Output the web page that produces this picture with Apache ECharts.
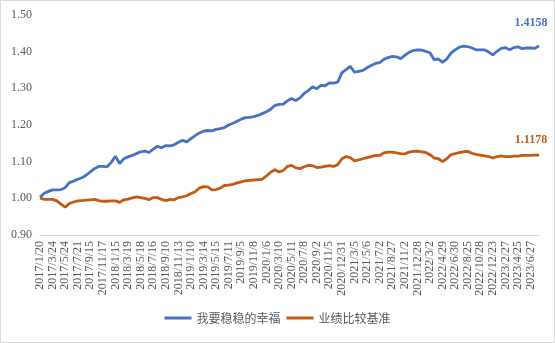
<!DOCTYPE html>
<html>
<head>
<meta charset="utf-8">
<script src="https://cdn.jsdelivr.net/npm/echarts@6/dist/echarts.min.js"></script>
<style>
html,body{margin:0;padding:0;background:#fff;}
#c{width:555px;height:343px;box-sizing:border-box;border:1px solid #d9d9d9;}
</style>
</head>
<body>
<div id="c"></div>
<script>
const dates = [
"2017/1/20","2017/2/14","2017/3/3","2017/3/24","2017/4/13","2017/5/4","2017/5/24","2017/6/13","2017/7/3","2017/7/21","2017/8/8","2017/8/28",
"2017/9/15","2017/10/13","2017/10/31","2017/11/17","2017/12/6","2017/12/26","2018/1/15","2018/2/2","2018/3/1","2018/3/19","2018/4/9","2018/4/27",
"2018/5/18","2018/6/6","2018/6/26","2018/7/16","2018/8/3","2018/8/22","2018/9/10","2018/10/8","2018/10/25","2018/11/13","2018/12/3","2018/12/20",
"2019/1/10","2019/1/30","2019/2/25","2019/3/14","2019/4/3","2019/4/24","2019/5/15","2019/6/4","2019/6/21","2019/7/11","2019/7/31","2019/8/19",
"2019/9/5","2019/9/27","2019/10/21","2019/11/8","2019/11/27","2019/12/16","2020/1/6","2020/2/7","2020/2/24","2020/3/10","2020/3/30","2020/4/21",
"2020/5/11","2020/5/28","2020/6/18","2020/7/8","2020/7/27","2020/8/13","2020/9/2","2020/9/21","2020/10/16","2020/11/5","2020/11/24","2020/12/11",
"2020/12/31","2021/1/20","2021/2/9","2021/3/5","2021/3/24","2021/4/14","2021/5/6","2021/5/25","2021/6/11","2021/7/2","2021/7/21","2021/8/9",
"2021/8/27","2021/9/16","2021/10/15","2021/11/2","2021/11/19","2021/12/8","2021/12/28","2022/1/18","2022/2/14","2022/3/2","2022/3/22","2022/4/11",
"2022/4/29","2022/5/23","2022/6/10","2022/6/30","2022/7/19","2022/8/5","2022/8/25","2022/9/16","2022/10/13","2022/10/28","2022/11/16","2022/12/5",
"2022/12/23","2023/1/12","2023/2/8","2023/2/27","2023/3/16","2023/4/6","2023/4/25","2023/5/17","2023/6/7","2023/6/27","2023/7/17","2023/8/4"
];
const fundName = "我要稳稳的幸福";
const benchName = "业绩比较基准";
const fund = [
1.003,1.014,1.019,1.023,1.023,1.024,1.029,1.043,1.047,1.052,1.056,1.063,
1.072,1.081,1.087,1.087,1.086,1.098,1.115,1.095,1.108,1.113,1.117,1.122,
1.127,1.129,1.125,1.134,1.142,1.138,1.144,1.143,1.146,1.153,1.158,1.154,
1.163,1.171,1.178,1.183,1.185,1.184,1.188,1.190,1.193,1.200,1.205,1.210,
1.216,1.220,1.221,1.223,1.226,1.231,1.236,1.243,1.253,1.256,1.257,1.266,
1.272,1.267,1.274,1.286,1.294,1.304,1.299,1.308,1.307,1.315,1.314,1.317,
1.343,1.351,1.360,1.344,1.346,1.349,1.356,1.362,1.368,1.370,1.379,1.384,
1.387,1.386,1.381,1.390,1.398,1.403,1.405,1.404,1.401,1.397,1.378,1.380,
1.371,1.380,1.396,1.405,1.412,1.415,1.414,1.410,1.405,1.405,1.405,1.399,
1.391,1.401,1.409,1.411,1.405,1.411,1.413,1.408,1.410,1.410,1.409,1.4158
];
const bench = [
1.001,0.997,0.997,0.997,0.993,0.984,0.976,0.986,0.990,0.993,0.994,0.995,
0.996,0.997,0.994,0.992,0.992,0.993,0.993,0.989,0.996,0.998,1.001,1.004,
1.002,1.000,0.996,1.002,1.002,0.997,0.994,0.997,0.996,1.002,1.004,1.007,
1.013,1.018,1.028,1.032,1.031,1.023,1.024,1.028,1.035,1.036,1.038,1.042,
1.045,1.048,1.049,1.050,1.051,1.052,1.061,1.071,1.078,1.072,1.076,1.087,
1.090,1.083,1.081,1.086,1.090,1.089,1.084,1.085,1.087,1.089,1.087,1.092,
1.108,1.114,1.111,1.102,1.105,1.108,1.111,1.114,1.117,1.117,1.124,1.126,
1.126,1.124,1.122,1.121,1.126,1.128,1.129,1.127,1.125,1.119,1.110,1.108,
1.100,1.108,1.119,1.122,1.125,1.127,1.128,1.123,1.120,1.118,1.116,1.114,
1.110,1.114,1.116,1.114,1.114,1.115,1.115,1.117,1.117,1.117,1.118,1.1178
];
const yMin = 0.9, yMax = 1.5, yStep = 0.1;

const chart = echarts.init(document.getElementById('c'));
const serif = 'Liberation Serif';
function endMark(arr, color, offset) {
  const last = arr.length - 1;
  const v = arr[last];
  return {
    symbol: 'circle', symbolSize: 0, silent: true,
    data: [{ coord: [last, v], value: v }],
    label: {
      show: true, position: 'top', offset: offset,
      formatter: () => v.toFixed(4),
      color: color, fontFamily: serif, fontWeight: 'bold', fontSize: 12
    }
  };
}
chart.setOption({
  animation: false,
  grid: { left: 39, right: 15, top: 14, bottom: 107 },
  legend: {
    bottom: 13, left: 'center',
    itemWidth: 27, itemHeight: 3, itemGap: 6,
    icon: 'rect',
    textStyle: { color: '#595959', fontSize: 12, fontFamily: '"Noto Sans CJK SC",sans-serif' },
    data: [fundName, benchName]
  },
  xAxis: {
    type: 'category', data: dates, boundaryGap: false,
    axisLine: { lineStyle: { color: '#d9d9d9', width: 1 } },
    axisTick: { show: false },
    axisLabel: { interval: 2, rotate: 90, color: '#595959', fontSize: 12, fontFamily: serif, margin: 6 }
  },
  yAxis: {
    type: 'value', min: yMin, max: yMax, interval: yStep,
    axisLine: { show: false }, axisTick: { show: false },
    splitLine: { show: false },
    axisLabel: { formatter: v => v.toFixed(2), color: '#595959', fontSize: 12, fontFamily: serif, margin: 8 }
  },
  series: [
    { name: fundName, type: 'line', data: fund, symbol: 'none',
      lineStyle: { color: '#4472C4', width: 2.8 }, itemStyle: { color: '#4472C4' },
      markPoint: endMark(fund, '#4472C4', [-8, -12]) },
    { name: benchName, type: 'line', data: bench, symbol: 'none',
      lineStyle: { color: '#C55A11', width: 2.8 }, itemStyle: { color: '#C55A11' },
      markPoint: endMark(bench, '#C55A11', [-8, -4]) }
  ]
});
</script>
</body>
</html>
